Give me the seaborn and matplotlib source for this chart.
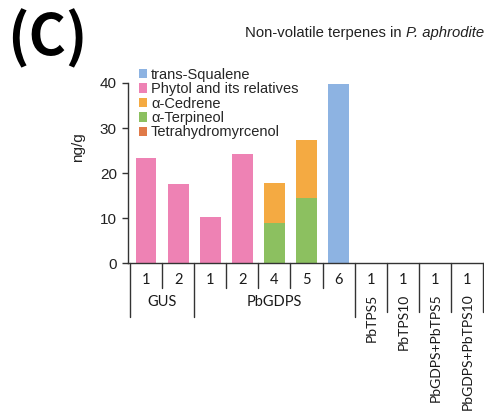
import matplotlib
matplotlib.use("Agg")
import matplotlib.pyplot as plt
import matplotlib.transforms as mtransforms
from matplotlib.patches import Patch
import numpy as np
import pandas as pd
import seaborn as sns

# Sample numbers and construct groups along the x axis
samples = ["1", "2", "1", "2", "4", "5", "6", "1", "1", "1", "1"]
groups = ["GUS", "GUS", "PbGDPS", "PbGDPS", "PbGDPS", "PbGDPS", "PbGDPS",
          "PbTPS5", "PbTPS10", "PbGDPS+PbTPS5", "PbGDPS+PbTPS10"]

# Compound amounts (ng/g)
tetrahydromyrcenol = [0, 0, 0, 0, 0, 0, 0, 0, 0, 0, 0]
terpineol = [0, 0, 0, 0, 8.9, 14.4, 0, 0, 0, 0, 0]
cedrene = [0, 0, 0, 0, 8.9, 12.9, 0, 0, 0, 0, 0]
phytol = [23.3, 17.6, 10.2, 24.2, 0, 0, 0, 0, 0, 0, 0]
squalene = [0, 0, 0, 0, 0, 0, 39.8, 0, 0, 0, 0]

series = [
    ("Tetrahydromyrcenol", tetrahydromyrcenol, "#e07a48"),
    ("\u03b1-Terpineol", terpineol, "#8cc060"),
    ("\u03b1-Cedrene", cedrene, "#f4aa42"),
    ("Phytol and its relatives", phytol, "#ee82b4"),
    ("trans-Squalene", squalene, "#8db3e2"),
]

sns.set_theme(style="white")
plt.rcParams["font.family"] = ["Liberation Sans", "DejaVu Sans"]

W, H = 485, 415
fig = plt.figure(figsize=(W / 100, H / 100), dpi=100)
ax = fig.add_axes([128 / W, 1 - 263 / H, 357 / W, 180 / H])

ids = [f"{g}-{s}-{i}" for i, (g, s) in enumerate(zip(groups, samples))]
df = pd.DataFrame({"id": ids})
cum = np.zeros(len(ids))
stacks = []
for name, vals, col in series:
    cum = cum + np.array(vals, dtype=float)
    stacks.append((name, cum.copy(), col))

# draw cumulative totals from the top layer down so lower layers sit in front
for name, top, col in reversed(stacks):
    df["v"] = top
    sns.barplot(data=df, x="id", y="v", order=ids, color=col, saturation=1,
                width=0.65, linewidth=0, ax=ax)

ax.set_xlim(-0.56, 10.56)
ax.set_ylim(0, 40)
ax.set_yticks([0, 10, 20, 30, 40])
ax.tick_params(axis="y", which="both", left=True, length=4, width=1,
               color="#333333", labelsize=11, pad=4, labelcolor="#222222")
ax.tick_params(axis="x", bottom=False, labelbottom=False)
ax.set_xlabel("")
ax.set_ylabel("ng/g", fontsize=11, color="#222222")
ax.yaxis.set_label_coords(-0.12, 0.645)
for side in ["top", "right"]:
    ax.spines[side].set_visible(False)
for side in ["left", "bottom"]:
    ax.spines[side].set_color("#333333")
    ax.spines[side].set_linewidth(1)

# hierarchical category labels below the axis
trans = mtransforms.blended_transform_factory(ax.transData, ax.transAxes)
label_font = dict(family=["Lato", "DejaVu Sans"], fontsize=10.5, color="#1a1a1a")
n = len(samples)
for i in range(n + 1):
    b = i - 0.5
    long = i == 0 or i == n or groups[i] != groups[i - 1]
    y1 = -0.3 if long else -0.139
    if i >= 8:
        y1 = -0.27
    ax.plot([b, b], [0, y1], transform=trans, color="#333333", lw=1,
            clip_on=False)
for i, s in enumerate(samples):
    ax.text(i, -0.094, s, transform=trans, ha="center", va="center",
            **label_font)

start = 0
for i in range(1, n + 1):
    if i == n or groups[i] != groups[start]:
        g = groups[start]
        center = (start + i - 1) / 2
        if i - start > 1:
            ax.text(center, -0.217, g, transform=trans, ha="center",
                    va="center", **label_font)
        else:
            ax.text(center + 0.02, -0.17, g, transform=trans, ha="center",
                    va="top", rotation=90, family=["Lato", "DejaVu Sans"],
                    fontsize=10, color="#1a1a1a")
        start = i

handles = [Patch(facecolor=col, edgecolor="none", label=name)
           for name, _, col in reversed(stacks)]
ax.legend(handles=handles, loc="upper left", bbox_to_anchor=(0.03, 1.085),
          frameon=False, fontsize=10.5, handlelength=0.6, handleheight=0.6,
          handletextpad=0.25, labelspacing=0.03, borderpad=0,
          borderaxespad=0)

t1 = fig.text(245 / W, 1 - 33 / H, "Non-volatile terpenes in ", fontsize=10.7,
              ha="left", va="center", color="#222222")
ax.annotate("P. aphrodite", xy=(1, 0), xycoords=t1, xytext=(0, 0),
            textcoords="offset points", ha="left", va="bottom",
            fontsize=10.7, style="italic", color="#222222",
            annotation_clip=False)

fig.text(7 / W, 1 - 9 / H, "(C)", fontsize=41, fontweight="bold",
         family=["Noto Sans CJK JP", "Lato", "DejaVu Sans"], ha="left",
         va="top", color="black")

fig.savefig("out.png", dpi=100, facecolor="white")
